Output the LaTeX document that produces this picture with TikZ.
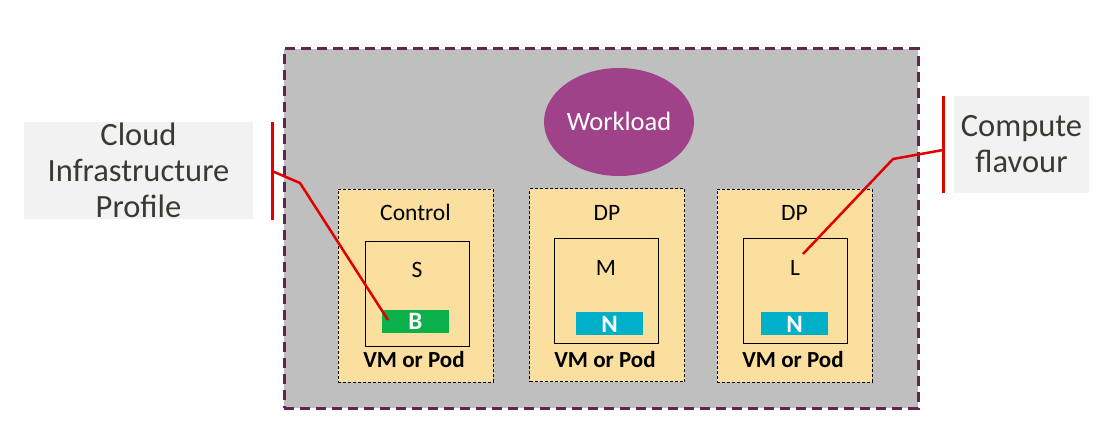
\documentclass[tikz,border=0pt]{standalone}
\usepackage{fontspec}
\setmainfont{Carlito}
\usetikzlibrary{shapes.geometric}
\definecolor{bggray}{HTML}{BFBFBF}
\definecolor{outerline}{HTML}{5F2750}
\definecolor{wlpurple}{HTML}{A0428A}
\definecolor{boxfill}{HTML}{FBDF9F}
\definecolor{bgreen}{HTML}{0DB14B}
\definecolor{ncyan}{HTML}{00AFC8}
\definecolor{lblfill}{HTML}{F2F2F2}
\definecolor{lbltext}{HTML}{3A3A32}
\definecolor{redline}{HTML}{E00000}
\begin{document}
\begin{tikzpicture}[x=1pt,y=-1pt,
  outerbox/.style={draw=outerline, fill=bggray, line width=3pt, dash pattern=on 10pt off 6pt, inner sep=0pt, minimum width=634pt, minimum height=359pt},
  vmbox/.style={draw=black, fill=boxfill, line width=0.8pt, dash pattern=on 3pt off 2pt, inner sep=0pt, minimum width=155pt, minimum height=193pt},
  flavbox/.style={draw=black, line width=0.9pt, inner sep=0pt, minimum width=104pt, minimum height=105pt},
  bar/.style={inner sep=0pt, minimum width=67pt, minimum height=23pt},
  lbl/.style={font=\fontsize{23.5}{28}\selectfont, inner sep=0pt, anchor=base},
  barlbl/.style={font=\bfseries\fontsize{25}{30}\selectfont, text=white, inner sep=0pt, anchor=base},
  vmlbl/.style={font=\bfseries\fontsize{23}{28}\selectfont, inner sep=0pt, anchor=base},
  sidelbl/.style={fill=lblfill, text=lbltext, align=center, inner sep=0pt, font=\fontsize{32.5}{36}\selectfont},
  redl/.style={draw=redline, line width=3pt},
  redc/.style={draw=redline, line width=2.5pt}
]
\useasboundingbox (0,0) rectangle (1100,433);
\fill[white] (0,0) rectangle (1100,433);

% outer gray region
\node[outerbox] (outer) at (601,228.5) {};

% workload
\node[ellipse, fill=wlpurple, minimum width=150pt, minimum height=108pt, inner sep=0pt] (wl) at (619,122) {};
\node[lbl, text=white, font=\fontsize{26.5}{30}\selectfont] (wltxt) at (619,131) {Workload};

% VM boxes
\node[vmbox] (ctl) at (415.5,285.5) {};
\node[vmbox] (dp1) at (607,285) {};
\node[vmbox] (dp2) at (794.5,285.5) {};

\node[lbl] (ctltxt) at (ctl.center |- 0,220) {Control};
\node[lbl] (dp1txt) at (dp1.center |- 0,220) {DP};
\node[lbl] (dp2txt) at (dp2.center |- 0,220) {DP};

% flavour boxes
\node[flavbox] (fs) at (417.5,293.5) {};
\node[flavbox] (fm) at (606.5,291) {};
\node[flavbox] (fl) at (795,290.5) {};

\node[lbl] (stxt) at (417,277) {S};
\node[lbl] (mtxt) at (606,275) {M};
\node[lbl] (ltxt) at (795,275) {L};

% bars
\node[bar, fill=bgreen] (bb) at (415.5,321) {};
\node[bar, fill=ncyan] (bn1) at (609.5,323.5) {};
\node[bar, fill=ncyan] (bn2) at (794.5,323.5) {};
\node[barlbl] (btxt) at (415.5,329.5) {B};
\node[barlbl] (n1txt) at (609.5,332) {N};
\node[barlbl] (n2txt) at (794.5,332) {N};

% VM or Pod
\node[vmlbl] (vm1) at (414,367) {VM or Pod};
\node[vmlbl] (vm2) at (605,367) {VM or Pod};
\node[vmlbl] (vm3) at (793,367) {VM or Pod};

% side labels
\node[sidelbl, minimum width=229pt, minimum height=97pt] (cip) at (138.5,170.5) {Cloud\\Infrastructure\\Profile};
\node[sidelbl, minimum width=135pt, minimum height=97pt] (cf) at (1021.5,144.5) {Compute\\flavour};

% red brackets
\coordinate (lt) at (272,122);
\coordinate (lb) at (272,220);
\coordinate (lm) at (272,171);
\coordinate (lk) at (300,183);
\coordinate (le) at (388,320);
\draw[redl] (lt) -- (lb);
\draw[redc] (lm) -- (lk) -- (le);

\coordinate (rt) at (943,96);
\coordinate (rb) at (943,193);
\coordinate (rm) at (943,150);
\coordinate (rk) at (893,159);
\coordinate (re) at (803,254);
\draw[redl] (rt) -- (rb);
\draw[redc] (rm) -- (rk) -- (re);
\end{tikzpicture}
\end{document}
